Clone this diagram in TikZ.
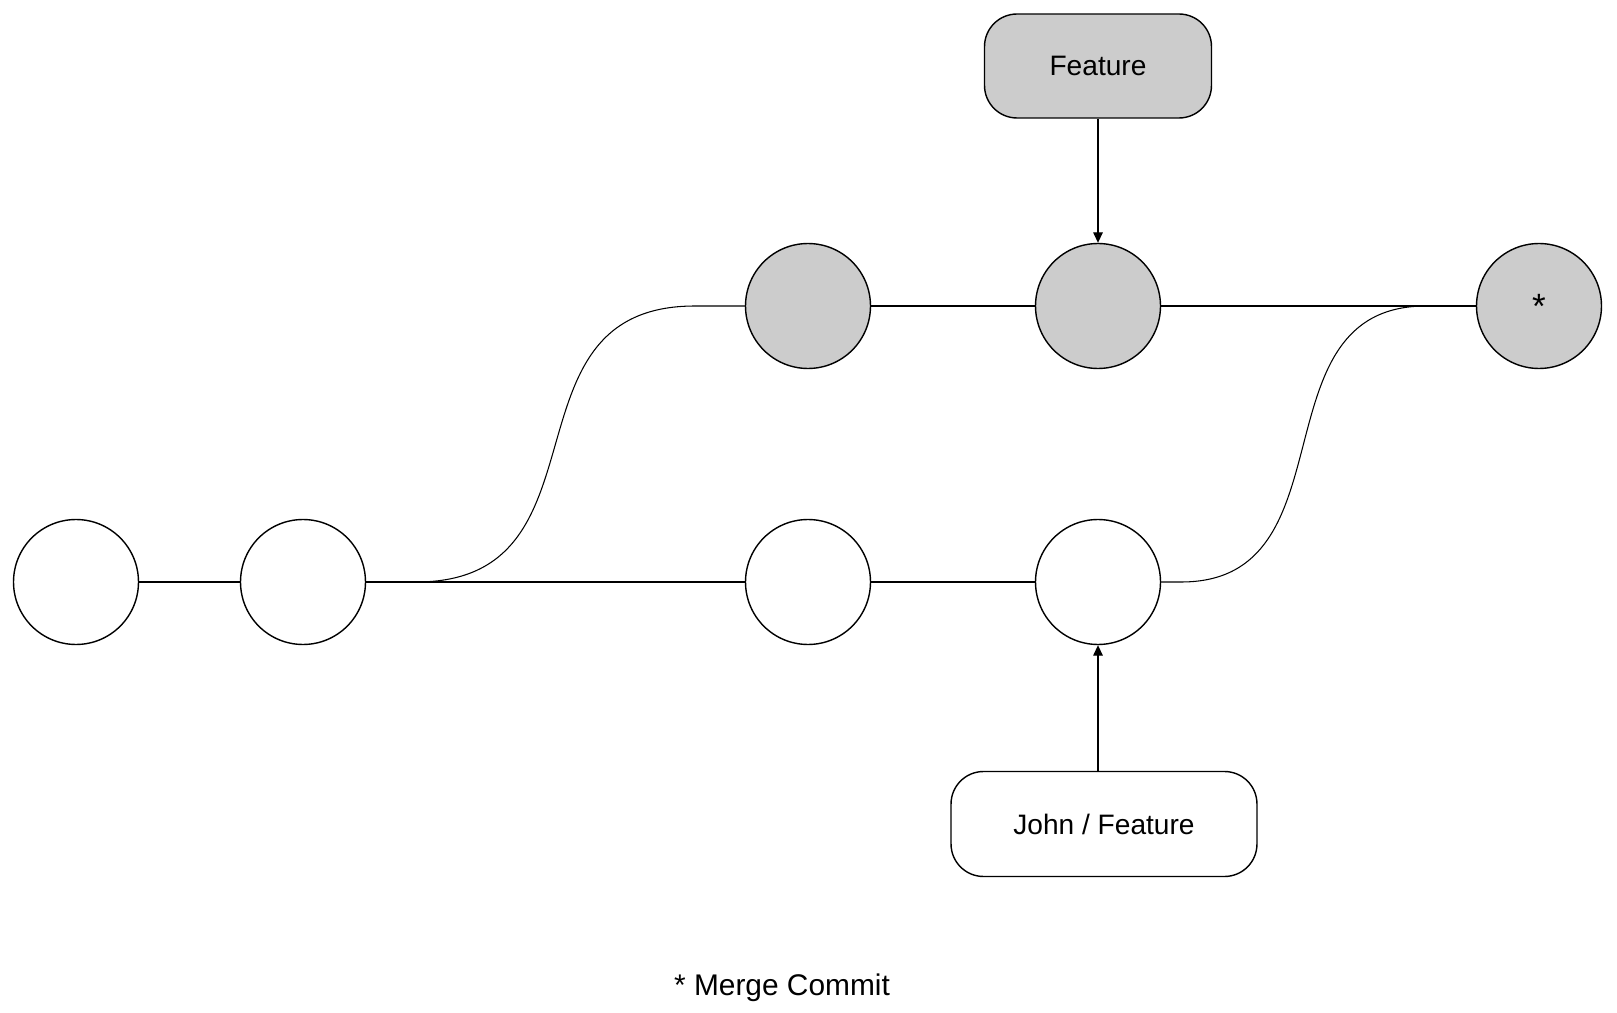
\documentclass[tikz,border=0pt]{standalone}
\usepackage{fontspec}
\setmainfont{Liberation Sans}
\usetikzlibrary{arrows.meta,positioning,calc}
\definecolor{xshade}{RGB}{204,204,204}

\begin{document}
\begin{tikzpicture}[x=0.02cm, y=-0.02cm,
  commit/.style={circle, draw=black, fill=white, line width=0.8pt,
                 minimum size=2.5cm, inner sep=0pt,
                 font=\fontsize{16}{19}\selectfont},
  featcommit/.style={commit, fill=xshade},
  branch/.style={draw=black, fill=white, rounded corners=0.65cm,
                 minimum width=4.54cm, minimum height=2.08cm,
                 line width=0.8pt, font=\fontsize{16}{19}\selectfont},
  link/.style={line width=0.6pt},
  ptr/.style={-{Triangle[length=6pt, width=5.5pt]}, line width=0.6pt}
]
  \useasboundingbox[fill=white] (0,0) rectangle (1617,1013);

  % main line
  \node[commit] (c1) at (76, 582) {};
  \node[commit] (c2) at (303, 582) {};
  \node[commit] (c3) at (808, 582) {};
  \node[commit] (c4) at (1098, 582) {};

  % feature line
  \node[featcommit] (f1) at (808, 306) {};
  \node[featcommit] (f2) at (1098, 306) {};
  \node[featcommit, font=\fontsize{20}{24}\selectfont] (merge) at (1539, 306) {\raisebox{-0.25ex}{*}};

  \node[branch, fill=xshade] (feature) at (1098, 66) {Feature};
  \node[branch, minimum width=6.12cm, minimum height=2.1cm] (john) at (1104, 824) {John / Feature};

  \node[font=\fontsize{17}{20}\selectfont] (note) at (782, 988) {* Merge Commit};

  \coordinate (fork) at ($(c2.east)+(50,0)$);
  \coordinate (forkend) at ($(f1.west)+(-50,0)$);
  \coordinate (join) at ($(c4.east)+(20,0)$);
  \coordinate (joinend) at ($(merge.west)+(-50,0)$);

  \draw[link] (c1) -- (c2);
  \draw[link] (c2) -- (c3);
  \draw[link] (c3) -- (c4);
  \draw[link] (f1) -- (f2);
  \draw[link] (f2) -- (merge);
  \draw[link] (c2.east) -- (fork) to[out=0, in=180, looseness=1.3] (forkend) -- (f1.west);
  \draw[link] (c4.east) -- (join) to[out=0, in=180, looseness=1.2] (joinend) -- (merge.west);

  \draw[ptr] (feature) -- (f2);
  \draw[ptr] (john.north -| c4) -- (c4.south);
\end{tikzpicture}
\end{document}
